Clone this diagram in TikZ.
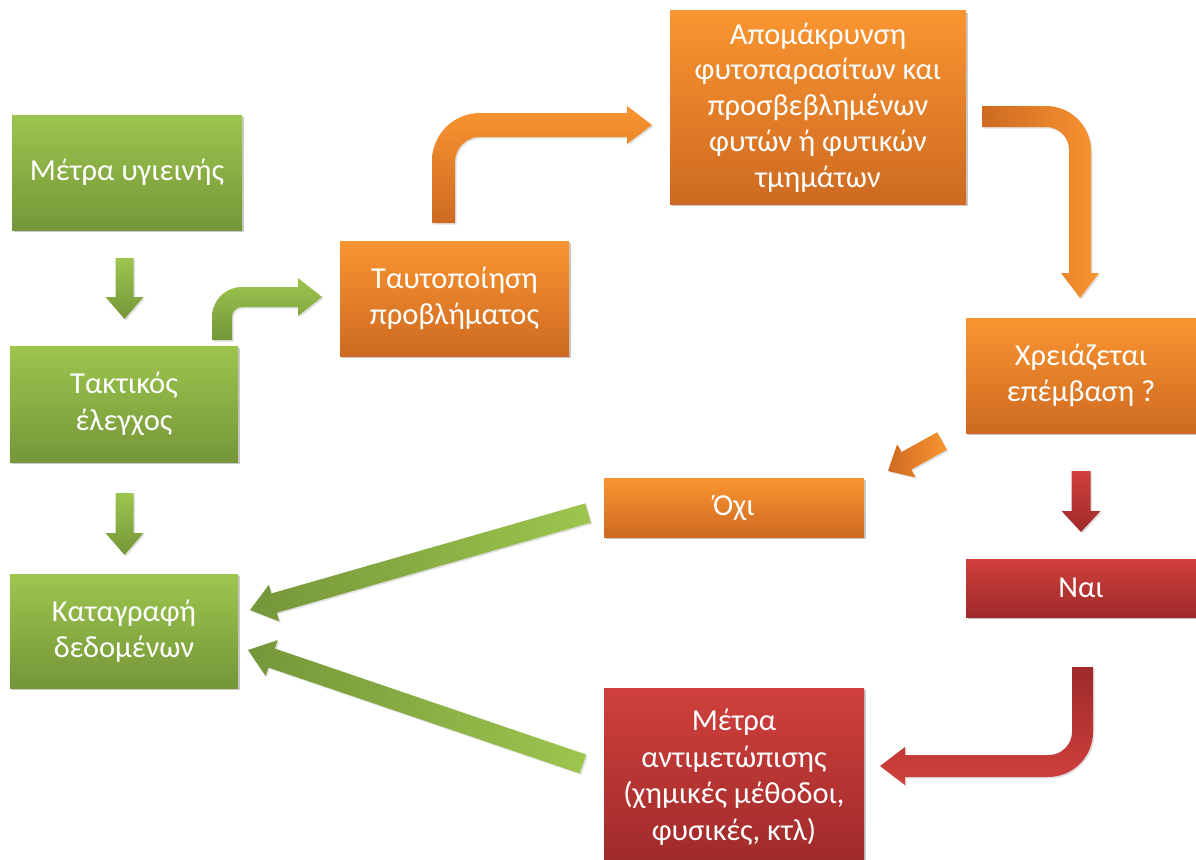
\documentclass[tikz,border=0pt]{standalone}
\usepackage{fontspec}
\setmainfont{Carlito}
\usetikzlibrary{calc,shadows}
\definecolor{gA}{RGB}{157,197,78}
\definecolor{gB}{RGB}{117,150,57}
\definecolor{oA}{RGB}{249,149,48}
\definecolor{oB}{RGB}{206,106,33}
\definecolor{rA}{RGB}{208,64,60}
\definecolor{rB}{RGB}{158,42,42}
\tikzset{
  box/.style={rectangle, inner sep=0pt, align=center, text=white,
    font=\fontsize{30.5}{36.5}\selectfont,
    drop shadow={opacity=0.35, shadow xshift=2pt, shadow yshift=-2pt, fill=black!60}},
  gbox/.style={box, top color=gA, bottom color=gB},
  obox/.style={box, top color=oA, bottom color=oB},
  rbox/.style={box, top color=rA, bottom color=rB},
  arr/.style={drop shadow={opacity=0.2, shadow xshift=1.5pt, shadow yshift=-1.5pt, fill=black!60}},
  garrv/.style={arr, top color=gA, bottom color=gB},
  garrh/.style={arr, left color=gB, right color=gA},
  oarrv/.style={arr, top color=oA, bottom color=oB},
  oarrh/.style={arr, left color=oB, right color=oA},
  rarrv/.style={arr, top color=rA, bottom color=rB},
  rarrbent/.style={arr, top color=rB, bottom color=rA},
}
% straight block arrow: #1 style, #2 tail, #3 tip, #4 half shaft, #5 half head, #6 head length
\newcommand\blockarr[6]{%
  \coordinate (tmpC) at ($(#3)!#6!(#2)$);
  \path[#1] ($(#2)!#4!90:(#3)$) -- ($(tmpC)!#4!-90:(#2)$) -- ($(tmpC)!#5!-90:(#2)$)
    -- (#3) -- ($(tmpC)!#5!90:(#2)$) -- ($(tmpC)!#4!90:(#2)$) -- ($(#2)!#4!-90:(#3)$) -- cycle;
}
\begin{document}
\begin{tikzpicture}[x=1pt,y=-1pt]
\useasboundingbox (0,0) rectangle (1196,859);
\fill[white] (0,0) rectangle (1196,859);
\clip (0,0) rectangle (1196,859);

% boxes
\node[gbox, minimum width=230pt, minimum height=115pt] (b1) at (127,172.5) {Μέτρα υγιεινής};
\node[gbox, minimum width=228pt, minimum height=116pt] (b2) at (124,404) {Τακτικός\\έλεγχος};
\node[gbox, minimum width=228pt, minimum height=114pt] (b3) at (124,631) {Καταγραφή\\δεδομένων};
\node[obox, minimum width=229pt, minimum height=115pt] (b4) at (454.5,298.5) {Ταυτοποίηση\\προβλήματος};
\node[obox, minimum width=296pt, minimum height=193pt, font=\fontsize{30.5}{35.8}\selectfont] (b5) at (818,107.5) {Απομάκρυνση\\φυτοπαρασίτων και\\προσβεβλημένων\\φυτών ή φυτικών\\τμημάτων};
\node[obox, minimum width=230pt, minimum height=115pt] (b6) at (1081,375.5) {Χρειάζεται\\επέμβαση ?};
\node[obox, minimum width=260pt, minimum height=59pt] (b7) at (734,507.5) {Όχι};
\node[rbox, minimum width=230pt, minimum height=58pt] (b8) at (1081,588) {Ναι};
\node[rbox, minimum width=260pt, minimum height=178pt] (b9) at (734,777) {Μέτρα\\αντιμετώπισης\\(χημικές μέθοδοι,\\φυσικές, κτλ)};

% connector end points
\coordinate (g1t) at (124.5,258); \coordinate (g1h) at (124.5,319);
\coordinate (g2t) at (124.5,493); \coordinate (g2h) at (124.5,555);
\coordinate (rdt) at (1081,471);  \coordinate (rdh) at (1081,532);
\coordinate (odt) at (942,441);   \coordinate (odh) at (888,471);
\coordinate (gut) at (588,513);   \coordinate (guh) at (250,610);
\coordinate (glt) at (583,764);   \coordinate (glh) at (248,650);

% straight arrows
\blockarr{garrv}{g1t}{g1h}{9pt}{19pt}{22pt}
\blockarr{garrv}{g2t}{g2h}{9pt}{19pt}{22pt}
\blockarr{rarrv}{rdt}{rdh}{9.5pt}{19.5pt}{21pt}
\blockarr{oarrh}{odt}{odh}{10pt}{19pt}{21pt}
\blockarr{garrh}{gut}{guh}{10pt}{19pt}{25pt}
\blockarr{garrh}{glt}{glh}{10pt}{19pt}{25pt}

% bent arrow: Τακτικός έλεγχος -> Ταυτοποίηση
\path[garrv] (212,340) -- (212,317) .. controls (212,300.4) and (225.4,287) .. (242,287)
  -- (298,287) -- (298,278) -- (322,297) -- (298,316) -- (298,307) -- (242,307)
  .. controls (236.5,307) and (232,311.5) .. (232,317) -- (232,340) -- cycle;

% bent arrow: Ταυτοποίηση -> Απομάκρυνση
\path[oarrv] (432,223) -- (432,161) .. controls (432,134.5) and (453.5,113) .. (480,113)
  -- (627,113) -- (627,106) -- (652,125) -- (627,144) -- (627,137) -- (480,137)
  .. controls (466.2,137) and (455,148.2) .. (455,162) -- (455,223) -- cycle;

% bent arrow: Απομάκρυνση -> Χρειάζεται επέμβαση
\path[oarrh] (982,106) -- (1046,106) .. controls (1070.9,106) and (1091,126.1) .. (1091,151)
  -- (1091,273) -- (1099,273) -- (1080,298) -- (1061,273) -- (1069,273) -- (1069,150)
  .. controls (1069,137.3) and (1058.7,127) .. (1046,127) -- (982,127) -- cycle;

% bent arrow: Ναι -> Μέτρα αντιμετώπισης
\path[rarrbent] (1072,667) -- (1093,667) -- (1093,732) .. controls (1093,756.9) and (1072.9,777) .. (1048,777)
  -- (905,777) -- (905,785) -- (880,766) -- (905,747) -- (905,755) -- (1049,755)
  .. controls (1061.7,755) and (1072,744.3) .. (1072,732) -- cycle;
\end{tikzpicture}
\end{document}
